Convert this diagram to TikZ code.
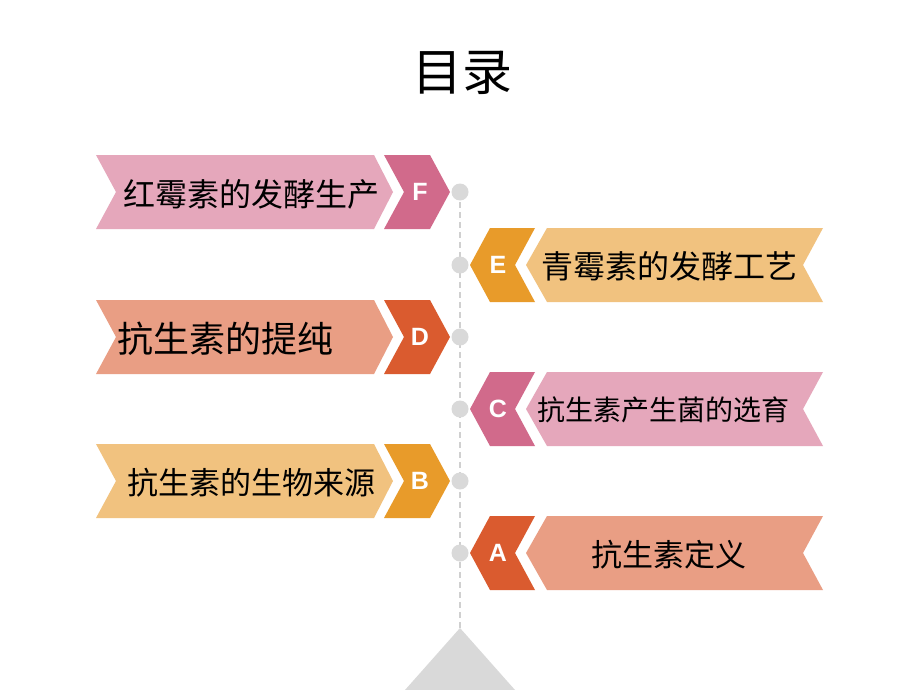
\documentclass[tikz,border=0pt]{standalone}
\usepackage{fontspec}
\newfontfamily\cjk{Noto Sans CJK SC}
\setsansfont{Liberation Sans}
\definecolor{pinkD}{HTML}{D16A8B}
\definecolor{pinkL}{HTML}{E5A7BB}
\definecolor{orD}{HTML}{E89B2A}
\definecolor{orL}{HTML}{F1C27F}
\definecolor{redD}{HTML}{DA5B2F}
\definecolor{redL}{HTML}{E99E84}
\definecolor{dotgray}{HTML}{D9D9D9}
\definecolor{linegray}{HTML}{D0D0D0}
\newcommand\leftbanner[3]{%
  \fill[#3] (96,#1-37) -- (374,#1-37) -- (393,#1) -- (374,#1+37) -- (96,#1+37) -- (116,#1) -- cycle;
  \fill[#2] (384,#1-37) -- (430,#1-37) -- (450,#1) -- (430,#1+37) -- (384,#1+37) -- (404,#1) -- cycle;}
\newcommand\rightbanner[3]{%
  \fill[#2] (470,#1) -- (490,#1-37) -- (535,#1-37) -- (515,#1) -- (535,#1+37) -- (490,#1+37) -- cycle;
  \fill[#3] (526,#1) -- (547,#1-37) -- (823,#1-37) -- (803,#1) -- (823,#1+37) -- (547,#1+37) -- cycle;}
\begin{document}
\begin{tikzpicture}[x=1pt,y=-1pt,
  lbl/.style={font=\cjk\fontsize{#1}{#1}\selectfont, text=black, inner sep=0},
  lbl/.default=31,
  letter/.style={font=\sffamily\bfseries\fontsize{25}{25}\selectfont, text=white, inner sep=0},
  dot/.style={circle, fill=dotgray, minimum size=17pt, inner sep=0},
  timeline/.style={draw=linegray, line width=1.6pt, dash pattern=on 6pt off 4pt}]
\fill[white] (0,0) rectangle (920,690);
\useasboundingbox (0,0) rectangle (920,690);
% title
\node[font=\cjk\fontsize{50}{50}\selectfont, inner sep=0] (title) at (462,73) {目录};
% timeline
\coordinate (apex) at (460,628);
\coordinate (start) at (460,192);
\draw[timeline] (start) -- (apex);
\fill[dotgray] (apex) -- (405,690) -- (515,690) -- cycle;
% banners
\leftbanner{192}{pinkD}{pinkL}
\rightbanner{265}{orD}{orL}
\leftbanner{337}{redD}{redL}
\rightbanner{409}{pinkD}{pinkL}
\leftbanner{481}{orD}{orL}
\rightbanner{553}{redD}{redL}
% dots
\node[dot] (dF) at (460,192) {};
\node[dot] (dE) at (460,265) {};
\node[dot] (dD) at (460,337) {};
\node[dot] (dC) at (460,409) {};
\node[dot] (dB) at (460,481) {};
\node[dot] (dA) at (460,553) {};
% letters
\node[letter] (lF) at (420,192) {F};
\node[letter] (lE) at (498,265) {E};
\node[letter] (lD) at (420,337) {D};
\node[letter] (lC) at (498,409) {C};
\node[letter] (lB) at (420,481) {B};
\node[letter] (lA) at (498,553) {A};
% labels
\node[lbl=32] (tF) at (251,194) {红霉素的发酵生产};
\node[lbl=32] (tE) at (669,266) {青霉素的发酵工艺};
\node[lbl=36, anchor=west] (tD) at (117,339) {抗生素的提纯};
\node[lbl=28] (tC) at (663,410) {抗生素产生菌的选育};
\node[lbl=31] (tB) at (251,483) {抗生素的生物来源};
\node[lbl=31] (tA) at (669,555) {抗生素定义};
\end{tikzpicture}
\end{document}
